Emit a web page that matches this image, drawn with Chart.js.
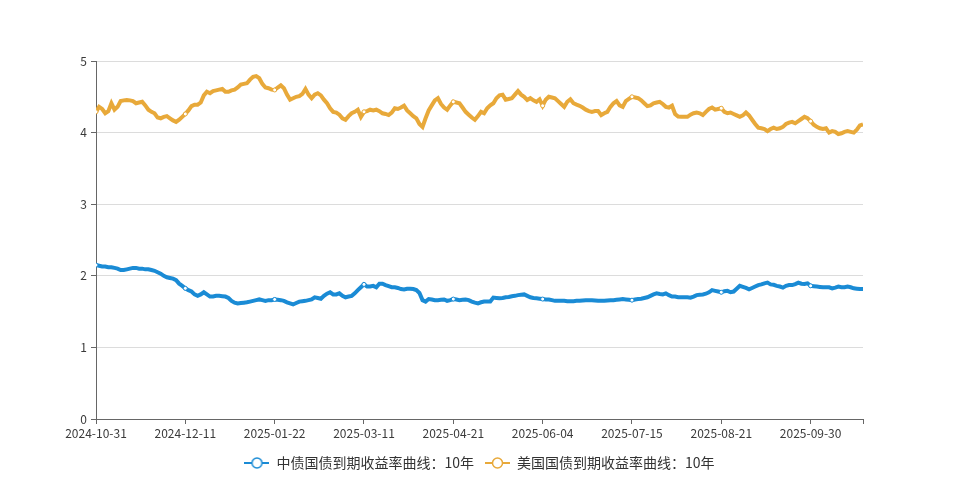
<!DOCTYPE html>
<html>
<head>
<meta charset="utf-8">
<script src="https://cdn.jsdelivr.net/npm/chart.js@4.4.1/dist/chart.umd.min.js"></script>
<style>
html,body{margin:0;padding:0;background:#fff;}
#wrap{width:959px;height:480px;position:relative;}
</style>
</head>
<body>
<div id="wrap"><canvas id="c" width="959" height="480"></canvas></div>
<script>
const tickLabels = ['2024-10-31','2024-12-11','2025-01-22','2025-03-11','2025-04-21','2025-06-04','2025-07-15','2025-08-21','2025-09-30'];
const tickStep = 29;
const yTicks = [0, 1, 2, 3, 4, 5];
const seriesNames = ['中债国债到期收益率曲线：10年', '美国国债到期收益率曲线：10年'];
const seriesColors = ['#1a8bd5', '#e8a93a'];

const cnYield = [2.15,2.14,2.13,2.13,2.12,2.12,2.11,2.10,2.08,2.08,
2.09,2.10,2.11,2.11,2.10,2.10,2.09,2.09,2.08,2.07,
2.05,2.03,2.00,1.98,1.97,1.96,1.94,1.89,1.86,1.825,
1.80,1.78,1.74,1.72,1.74,1.77,1.74,1.71,1.71,1.72,
1.72,1.715,1.71,1.69,1.65,1.625,1.615,1.62,1.625,1.63,
1.64,1.65,1.66,1.67,1.66,1.65,1.66,1.66,1.67,1.665,
1.66,1.65,1.63,1.615,1.60,1.62,1.64,1.645,1.65,1.66,
1.67,1.70,1.69,1.68,1.72,1.75,1.77,1.74,1.74,1.755,
1.72,1.70,1.71,1.72,1.755,1.80,1.84,1.88,1.85,1.85,
1.86,1.84,1.89,1.89,1.87,1.855,1.84,1.84,1.83,1.815,
1.81,1.82,1.82,1.815,1.80,1.76,1.66,1.64,1.675,1.67,
1.66,1.66,1.665,1.67,1.65,1.66,1.675,1.67,1.66,1.665,
1.67,1.66,1.64,1.625,1.615,1.63,1.64,1.64,1.64,1.695,
1.69,1.685,1.69,1.70,1.705,1.715,1.72,1.73,1.735,1.74,
1.72,1.70,1.69,1.685,1.68,1.675,1.67,1.67,1.66,1.65,
1.65,1.65,1.65,1.645,1.645,1.645,1.65,1.65,1.655,1.66,
1.66,1.66,1.655,1.65,1.65,1.65,1.655,1.66,1.66,1.665,
1.67,1.675,1.67,1.665,1.66,1.67,1.675,1.68,1.69,1.70,
1.72,1.74,1.755,1.745,1.74,1.755,1.73,1.71,1.71,1.70,
1.70,1.70,1.70,1.695,1.71,1.73,1.735,1.74,1.75,1.77,
1.80,1.79,1.78,1.77,1.785,1.79,1.77,1.78,1.82,1.86,
1.845,1.83,1.81,1.83,1.85,1.87,1.88,1.895,1.905,1.88,
1.875,1.86,1.85,1.835,1.86,1.87,1.87,1.885,1.905,1.89,
1.885,1.895,1.86,1.855,1.85,1.845,1.84,1.84,1.84,1.825,
1.835,1.85,1.84,1.84,1.85,1.84,1.825,1.82,1.815,1.815];

const usYield = [4.29,4.36,4.33,4.27,4.30,4.41,4.32,4.36,4.44,4.45,
4.455,4.45,4.44,4.41,4.42,4.43,4.38,4.32,4.29,4.27,
4.21,4.20,4.22,4.23,4.20,4.17,4.15,4.18,4.22,4.26,
4.31,4.37,4.39,4.39,4.42,4.52,4.57,4.55,4.58,4.59,
4.60,4.61,4.57,4.57,4.59,4.60,4.63,4.67,4.68,4.69,
4.74,4.78,4.79,4.76,4.68,4.63,4.62,4.60,4.595,4.63,
4.66,4.62,4.53,4.46,4.48,4.50,4.51,4.54,4.61,4.53,
4.48,4.53,4.55,4.52,4.46,4.41,4.34,4.29,4.28,4.25,
4.20,4.18,4.23,4.27,4.29,4.32,4.22,4.29,4.30,4.32,
4.31,4.32,4.30,4.27,4.26,4.245,4.28,4.34,4.33,4.35,
4.375,4.31,4.27,4.23,4.20,4.12,4.08,4.20,4.31,4.38,
4.45,4.48,4.40,4.35,4.32,4.38,4.43,4.42,4.41,4.35,
4.29,4.25,4.21,4.18,4.23,4.29,4.27,4.34,4.38,4.41,
4.48,4.52,4.53,4.46,4.47,4.48,4.53,4.58,4.53,4.50,
4.455,4.48,4.45,4.43,4.465,4.375,4.46,4.50,4.49,4.48,
4.44,4.40,4.36,4.43,4.465,4.41,4.39,4.375,4.35,4.32,
4.30,4.29,4.30,4.30,4.245,4.27,4.29,4.36,4.41,4.44,
4.38,4.36,4.44,4.47,4.50,4.49,4.48,4.45,4.41,4.37,
4.38,4.41,4.42,4.43,4.40,4.36,4.35,4.375,4.26,4.225,
4.22,4.22,4.22,4.25,4.27,4.28,4.27,4.245,4.29,4.33,
4.35,4.32,4.33,4.34,4.29,4.27,4.28,4.26,4.24,4.22,
4.24,4.28,4.24,4.18,4.12,4.07,4.06,4.05,4.02,4.05,
4.07,4.05,4.06,4.08,4.12,4.14,4.15,4.13,4.16,4.19,
4.22,4.20,4.16,4.11,4.08,4.06,4.05,4.06,4.00,4.02,
4.01,3.98,3.99,4.01,4.02,4.01,4.00,4.04,4.10,4.115];

const FONT = "'Microsoft YaHei', 'Noto Sans CJK SC', 'Noto Sans', sans-serif";
Chart.defaults.font.family = FONT;

function legendIcon(color) {
  const c = document.createElement('canvas');
  c.width = 25; c.height = 14;
  const g = c.getContext('2d');
  g.strokeStyle = color;
  g.lineWidth = 2;
  g.beginPath(); g.moveTo(0, 7); g.lineTo(25, 7); g.stroke();
  g.beginPath(); g.arc(12.5, 7, 5, 0, Math.PI * 2);
  g.fillStyle = '#fff'; g.fill();
  g.lineWidth = 1.5; g.stroke();
  return c;
}
const icons = seriesColors.map(legendIcon);

function makeDataset(name, values, color) {
  return {
    label: name,
    data: values.map((v, i) => ({ x: i, y: v })),
    borderColor: color,
    backgroundColor: color,
    borderWidth: 4,
    tension: 0,
    pointRadius: ctx => (ctx.dataIndex % tickStep === 0 ? 2 : 0),
    pointBackgroundColor: '#fff',
    pointBorderColor: color,
    pointBorderWidth: 1,
    pointHoverRadius: 0
  };
}

new Chart(document.getElementById('c'), {
  type: 'line',
  data: {
    datasets: [
      makeDataset(seriesNames[0], cnYield, seriesColors[0]),
      makeDataset(seriesNames[1], usYield, seriesColors[1])
    ]
  },
  options: {
    responsive: false,
    animation: false,
    events: [],
    layout: { padding: { top: 61, left: 0, right: 0, bottom: 0 } },
    scales: {
      x: {
        type: 'linear',
        min: 0,
        max: cnYield.length - 1,
        afterBuildTicks: s => {
          const t = tickLabels.map((_, k) => ({ value: k * tickStep }));
          t.push({ value: cnYield.length - 1 });
          s.ticks = t;
        },
        afterFit: s => { s.height = 26; },
        ticks: {
          autoSkip: false,
          maxRotation: 0,
          minRotation: 0,
          padding: 2,
          color: '#3a3a3a',
          font: { size: 12 },
          callback: v => (v % tickStep === 0 ? tickLabels[v / tickStep] : '')
        },
        grid: { drawOnChartArea: false, drawTicks: true, tickLength: 5, color: '#666', tickColor: '#666' },
        border: { display: true, color: '#666', width: 1 }
      },
      y: {
        min: 0,
        max: 5,
        afterBuildTicks: s => { s.ticks = yTicks.map(v => ({ value: v })); },
        afterFit: s => { s.width = 96; },
        ticks: { padding: 4, color: '#3a3a3a', font: { size: 12 } },
        grid: {
          color: c => (c.tick && c.tick.value === 0 ? 'rgba(0,0,0,0)' : '#dcdcdc'),
          tickColor: '#666',
          tickLength: 5
        },
        border: { display: true, color: '#666', width: 1 }
      },
      yPad: {
        position: 'right',
        display: true,
        grid: { display: false },
        border: { display: false },
        ticks: { display: false },
        afterFit: s => { s.width = 96; }
      }
    },
    plugins: {
      tooltip: { enabled: false },
      legend: {
        position: 'bottom',
        labels: {
          usePointStyle: true,
          pointStyleWidth: 25,
          padding: 11,
          color: '#333',
          font: { size: 14 },
          generateLabels: chart => {
            const items = Chart.defaults.plugins.legend.labels.generateLabels(chart);
            items.forEach((it, k) => { it.pointStyle = icons[k]; });
            return items;
          }
        }
      }
    }
  }
});
</script>
</body>
</html>
